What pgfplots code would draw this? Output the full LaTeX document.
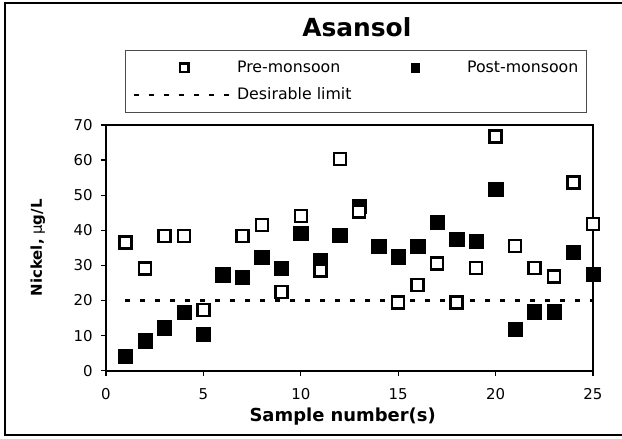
\documentclass[border=0pt]{standalone}
\usepackage{fontspec}
\setmainfont{DejaVu Sans}
\usepackage{pgfplots}
\usepackage{pgfplotstable}
\pgfplotsset{compat=1.18}

\pgfplotstableread{
x y
1 36.5
2 29.1
3 38.4
4 38.4
5 17.3
7 38.4
8 41.5
9 22.4
10 44.1
11 28.5
12 60.3
13 45.3
15 19.4
16 24.4
17 30.6
18 19.4
19 29.3
20 66.7
21 35.5
22 29.3
23 26.8
24 53.6
25 41.8
}\premonsoon

\pgfplotstableread{
x y
1 4.2
2 8.5
3 12.2
4 16.6
5 10.4
6 27.3
7 26.6
8 32.3
9 29.1
10 39.1
11 31.5
12 38.5
13 46.9
14 35.5
15 32.5
16 35.5
17 42.3
18 37.4
19 36.8
20 51.7
21 11.8
22 16.8
23 16.8
24 33.7
25 27.5
}\postmonsoon

\pgfplotsset{
  prestyle/.style={only marks, mark=square*, mark size=3.6bp,
    mark options={fill=white, draw=black, line width=1.5bp}},
  poststyle/.style={only marks, mark=square*, mark size=4.3bp,
    mark options={fill=black, draw=black, line width=0.3bp}},
  limstyle/.style={black, line width=1.5bp, dash pattern=on 3bp off 6bp, mark=none},
  markleg/.style={legend image code/.code={%
    \path[draw=none] (0bp,0bp) -- (60bp,0bp);
    \draw[##1, draw=none, mark size=2.6bp] plot coordinates {(30bp,0bp)};}},
  lineleg/.style={legend image code/.code={%
    \draw[##1] (0bp,0bp) -- (60bp,0bp);}},
}

\begin{document}
\begin{tikzpicture}
\useasboundingbox (0,0) rectangle (373.2bp,263.4bp);
\draw[line width=1.2bp] (380bp,2.4bp) -- (3bp,2.4bp) -- (3bp,261.6bp) -- (380bp,261.6bp);
\begin{axis}[
  at={(63.6bp,41bp)}, anchor=south west,
  scale only axis, width=292.2bp, height=147.4bp,
  xmin=0, xmax=25, ymin=0, ymax=70,
  xtick={0,5,...,25}, ytick={0,10,...,70},
  tick pos=left, tick align=outside, major tick length=3bp,
  every tick/.style={black, line width=0.8bp},
  axis line style={line width=1.2bp},
  clip=false,
  /pgf/number format/assume math mode=true,
  tick label style={font=\fontsize{9}{10}\selectfont},
  xticklabel style={yshift=-4bp},
  yticklabel style={xshift=-1.5bp},
  every axis title shift=0pt,
  title={\bfseries Asansol},
  title style={at={(axis description cs:0.515,1.398)}, anchor=center, font=\fontsize{15}{18}\selectfont},
  xlabel={Sample number(s)},
  xlabel style={at={(axis description cs:0.486,-0.187)}, anchor=center, font=\fontsize{10.8}{12}\selectfont\bfseries},
  ylabel={{\bfseries Nickel,} μ{\bfseries g/L}},
  ylabel style={at={(axis description cs:-0.140,0.5)}, anchor=center, font=\fontsize{9}{10}\selectfont},
  legend columns=2,
  legend cell align=left,
  legend style={at={(axis description cs:0.513,1.049)}, anchor=south,
    draw=black!70, line width=0.6bp, inner xsep=4.5bp, inner ysep=5.2bp,
    font=\fontsize{9.5}{11}\selectfont, nodes={inner sep=1bp}, row sep=5.8bp},
]
\addlegendimage{prestyle, markleg}
\addlegendentry{\makebox[76bp][l]{Pre-monsoon}}
\addlegendimage{poststyle, markleg}
\addlegendentry{\makebox[66bp][l]{Post-monsoon}}
\addlegendimage{limstyle, lineleg}
\addlegendentry{Desirable limit}

\addplot[limstyle, forget plot] coordinates {(1,20) (25,20)};
\addplot[poststyle, forget plot] table[x=x, y=y] {\postmonsoon};
\addplot[prestyle, forget plot] table[x=x, y=y] {\premonsoon};
\end{axis}
\end{tikzpicture}
\end{document}
